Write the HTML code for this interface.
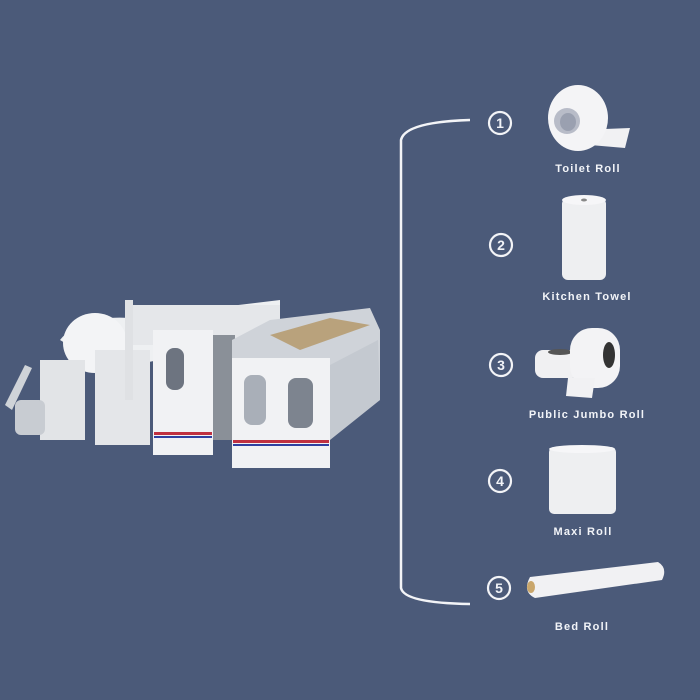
<!DOCTYPE html>
<html><head><meta charset="utf-8"><style>
html,body{margin:0;padding:0;background:#4b5a79;}
svg{display:block}
text{font-family:"Liberation Sans",sans-serif;font-weight:bold;fill:#f2f4f8}
</style></head><body>
<svg width="700" height="700" viewBox="0 0 700 700">
<rect width="700" height="700" fill="#4b5a79"/>
<path d="M470 120 Q405 122 401 140 L401 588 Q404 603 470 604" fill="none" stroke="#f3f4f7" stroke-width="2.5"/>
<g fill="none" stroke="#f3f4f7" stroke-width="2.2">
<circle cx="500" cy="123" r="11"/><circle cx="501" cy="245" r="11"/><circle cx="501" cy="365" r="11"/><circle cx="500" cy="481" r="11"/><circle cx="499" cy="588" r="11"/>
</g>
<g font-size="14" text-anchor="middle">
<text x="500" y="128">1</text><text x="501" y="250">2</text><text x="501" y="370">3</text><text x="500" y="486">4</text><text x="499" y="593">5</text>
</g>
<g font-size="11" text-anchor="middle" letter-spacing="1.2">
<text x="588" y="172">Toilet Roll</text>
<text x="587" y="300">Kitchen Towel</text>
<text x="587" y="418">Public Jumbo Roll</text>
<text x="583" y="535">Maxi Roll</text>
<text x="582" y="630">Bed Roll</text>
</g>
<path d="M580 130 L630 128 L625 148 L590 145 Z" fill="#f1f1f3"/>
<ellipse cx="578" cy="118" rx="30" ry="33" fill="#f4f4f6"/>
<ellipse cx="567" cy="121" rx="13" ry="13" fill="#b8bcc8"/>
<ellipse cx="568" cy="122" rx="8" ry="9" fill="#9aa0b0"/>
<rect x="562" y="198" width="44" height="82" rx="6" fill="#eeeff1"/>
<ellipse cx="584" cy="200" rx="22" ry="5" fill="#f6f6f8"/>
<ellipse cx="584" cy="200" rx="3" ry="1.5" fill="#888"/>
<rect x="535" y="350" width="45" height="28" rx="8" fill="#f0f0f2"/>
<ellipse cx="560" cy="352" rx="12" ry="3" fill="#555"/>
<rect x="570" y="328" width="50" height="60" rx="22" fill="#f3f3f5"/>
<path d="M568 378 L595 378 L592 398 L566 396 Z" fill="#f1f1f3"/>
<ellipse cx="609" cy="355" rx="6" ry="13" fill="#333"/>
<rect x="549" y="447" width="67" height="67" rx="5" fill="#eeeff1"/>
<ellipse cx="582" cy="449" rx="33" ry="4" fill="#f6f6f8"/>
<path d="M530 577 L658 562 Q668 568 662 580 L535 598 Q522 592 530 577 Z" fill="#f1f1f3"/>
<ellipse cx="531" cy="587" rx="4" ry="6" fill="#c9a66b"/>
<g>
<path d="M60 340 Q80 315 130 318 L280 300 L280 335 L110 370 Z" fill="#eef0f2"/>
<rect x="130" y="305" width="150" height="40" fill="#e5e7ea"/>
<ellipse cx="95" cy="343" rx="32" ry="30" fill="#f3f4f6"/>
<rect x="40" y="360" width="45" height="80" fill="#e2e4e7"/>
<rect x="95" y="350" width="55" height="95" fill="#e4e6e9"/>
<rect x="125" y="300" width="8" height="100" fill="#dfe1e4"/>
<path d="M5 405 L25 365 L32 368 L12 410 Z" fill="#cfd3d8"/>
<rect x="15" y="400" width="30" height="35" rx="6" fill="#c8ccd2"/>
<rect x="153" y="330" width="60" height="125" fill="#f1f2f4"/>
<rect x="166" y="348" width="18" height="42" rx="8" fill="#6d7480"/>
<rect x="154" y="432" width="58" height="3" fill="#c03040"/>
<rect x="154" y="436" width="58" height="2" fill="#3040a0"/>
<rect x="213" y="335" width="22" height="105" fill="#8a9098"/>
<path d="M232 340 L270 320 L370 308 L380 330 L380 400 L330 430 L232 360 Z" fill="#cfd3d9"/>
<path d="M270 335 L330 318 L370 325 L300 350 Z" fill="#b9a27c"/>
<rect x="232" y="358" width="98" height="110" fill="#f1f2f4"/>
<rect x="244" y="375" width="22" height="50" rx="8" fill="#a9afb8"/>
<rect x="288" y="378" width="25" height="50" rx="8" fill="#7d848f"/>
<rect x="233" y="440" width="96" height="3" fill="#c03040"/>
<rect x="233" y="444" width="96" height="2" fill="#3040a0"/>
<path d="M330 365 L378 340 L380 400 L330 440 Z" fill="#c4c9d0"/>
</g>
</svg>
</body></html>
